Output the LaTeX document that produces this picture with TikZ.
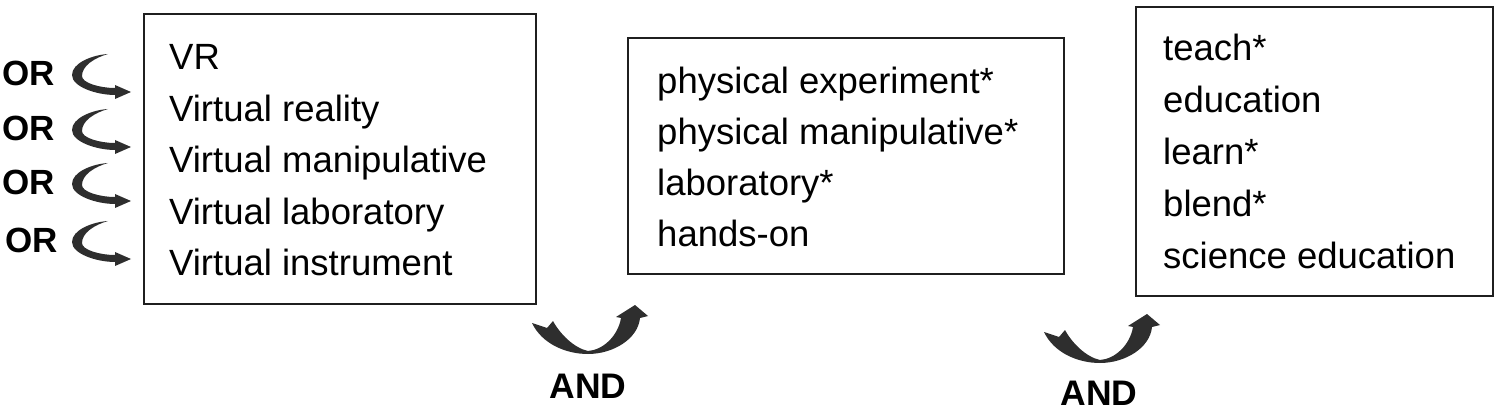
\documentclass[tikz,border=0pt]{standalone}
\usepackage{fontspec}
\setmainfont{Liberation Sans}
\begin{document}
\begin{tikzpicture}[x=1pt,y=-1pt,
 box/.style={draw=black!88, line width=2.2pt, anchor=north west, inner sep=0pt},
 txt/.style={anchor=base west, inner sep=0pt, font=\fontsize{36.5}{40}\selectfont},
 oplabel/.style={anchor=base west, inner sep=0pt, font=\bfseries\fontsize{35}{40}\selectfont},
 andlabel/.style={anchor=base, inner sep=0pt, font=\bfseries\fontsize{35.5}{40}\selectfont},
 arrowfill/.style={fill=black!82, draw=none},
 orarrow/.pic={\fill[arrowfill] (36,-21) .. controls (20,-20) and (0,-12) .. (0,0)
    .. controls (0,12) and (25,20) .. (43,20) -- (43,24) -- (59,17) -- (43,10) -- (43,13)
    .. controls (28,13) and (10,8) .. (10,1) .. controls (10,-9) and (22,-17) .. (36,-21) -- cycle;},
 andarrow/.pic={\fill[arrowfill] (-56,-31) .. controls (-46,-10) and (-22,0) .. (0,0)
    .. controls (25,0) and (50,-15) .. (52,-36) -- (60,-38) -- (47,-49) -- (28,-37) -- (33,-36)
    .. controls (30,-18) and (15,-4) .. (0,-3) .. controls (-14,-6) and (-28,-20) .. (-35,-33)
    -- (-41,-26) -- cycle;}
]
\useasboundingbox (0,0) rectangle (1497,414);

% boxes
\node[box, minimum width=392pt, minimum height=290pt] (b1) at (143,13) {};
\node[box, minimum width=436pt, minimum height=236pt] (b2) at (627,37) {};
\node[box, minimum width=357pt, minimum height=289pt] (b3) at (1135,6) {};

% box 1 text
\node[txt] (t11) at (169,70) {VR};
\node[txt] (t12) at (169,121.5) {Virtual reality};
\node[txt] (t13) at (169,173) {Virtual manipulative};
\node[txt] (t14) at (169,224.5) {Virtual laboratory};
\node[txt] (t15) at (169,276) {Virtual instrument};

% box 2 text
\node[txt] (t21) at (657,94) {physical experiment*};
\node[txt] (t22) at (657,145) {physical manipulative*};
\node[txt] (t23) at (657,196) {laboratory*};
\node[txt] (t24) at (657,247) {hands-on};

% box 3 text
\node[txt] (t31) at (1163,61) {teach*};
\node[txt] (t32) at (1163,113) {education};
\node[txt] (t33) at (1163,165) {learn*};
\node[txt] (t34) at (1163,217) {blend*};
\node[txt] (t35) at (1163,269) {science education};

% OR labels and arrows
\node[oplabel] (or1) at (2,86) {OR};
\node[oplabel] (or2) at (2,141) {OR};
\node[oplabel] (or3) at (2,195) {OR};
\node[oplabel] (or4) at (5,252) {OR};
\pic (ora1) at (72,75) {orarrow};
\pic (ora2) at (72,130) {orarrow};
\pic (ora3) at (72,184) {orarrow};
\pic (ora4) at (72,242) {orarrow};

% AND arrows and labels
\pic (anda1) at (588,354) {andarrow};
\pic (anda2) at (1100,363) {andarrow};
\node[andlabel] (and1) at (588,398.5) {AND};
\node[andlabel] (and2) at (1099,405) {AND};
\end{tikzpicture}
\end{document}
